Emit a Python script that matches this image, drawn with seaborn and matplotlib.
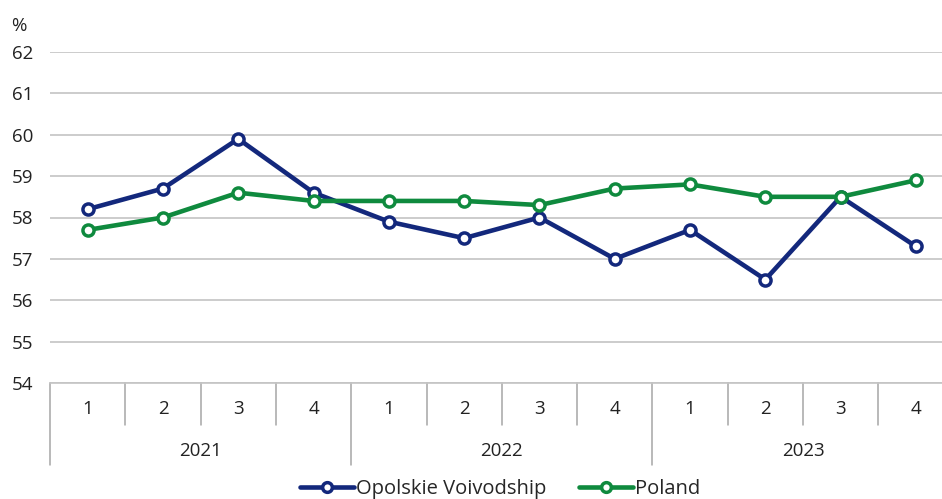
import matplotlib
matplotlib.use("Agg")
import matplotlib.pyplot as plt
import matplotlib.transforms as mtransforms
import seaborn as sns
import pandas as pd

years = ["2021", "2022", "2023"]
quarters = ["1", "2", "3", "4"]
opolskie = [58.2, 58.7, 59.9, 58.6, 57.9, 57.5, 58.0, 57.0, 57.7, 56.5, 58.5, 57.3]
poland = [57.7, 58.0, 58.6, 58.4, 58.4, 58.4, 58.3, 58.7, 58.8, 58.5, 58.5, 58.9]
series_names = ["Opolskie Voivodship", "Poland"]
colors = ["#13287c", "#0f8a3e"]

sns.set_theme(style="white")
plt.rcParams["font.family"] = ["Open Sans", "DejaVu Sans"]

n = len(opolskie)
df = pd.DataFrame({
    "x": list(range(n)) * 2,
    "value": opolskie + poland,
    "series": [series_names[0]] * n + [series_names[1]] * n,
})

fig = plt.figure(figsize=(9.42, 4.99), dpi=100)
ax = fig.add_axes([50 / 942, 1 - 383 / 499, 903.6 / 942, (383 - 52) / 499])

sns.lineplot(data=df, x="x", y="value", hue="series", palette=colors,
             marker="o", markersize=8, markerfacecolor="white",
             markeredgewidth=2.5, linewidth=3.3, ax=ax, legend=False)
for line, c in zip(ax.lines, colors):
    line.set_markeredgecolor(c)

fs = 13.5
ax.set_ylim(54, 62)
ax.set_xlim(-0.5, n - 0.5)
ax.set_yticks(range(54, 63))
ax.set_xticks([])
ax.set_xlabel("")
ax.set_ylabel("")
ax.grid(axis="y", color="#c4c4c4", linewidth=1.2)
ax.set_axisbelow(True)
for s in ["left", "right", "top"]:
    ax.spines[s].set_visible(False)
ax.spines["bottom"].set_color("#c4c4c4")
ax.spines["bottom"].set_linewidth(1.2)
ax.tick_params(axis="y", length=0, pad=12, labelsize=fs, labelcolor="#222222")
ax.text(-0.034, 1.05, "%", transform=ax.transAxes, fontsize=fs,
        color="#222222", ha="center", va="bottom")

# hierarchical category axis
trans = mtransforms.blended_transform_factory(ax.transData, ax.transAxes)
h_px = 383 - 52
q_bottom = -(425 - 383) / h_px
y_bottom = -(465 - 383) / h_px
q_text = -(409 - 383) / h_px
y_text = -(451 - 383) / h_px
for i in range(n + 1):
    xb = i - 0.5
    if i % 4 == 0:
        ax.plot([xb, xb], [0, y_bottom], transform=trans, color="#a6a6a6",
                linewidth=1.1, clip_on=False)
    else:
        ax.plot([xb, xb], [0, q_bottom], transform=trans, color="#a6a6a6",
                linewidth=1.1, clip_on=False)
for i in range(n):
    ax.text(i, q_text, quarters[i % 4], transform=trans, ha="center",
            va="center", fontsize=fs, color="#222222")
for j, yr in enumerate(years):
    ax.text(j * 4 + 1.5, y_text, yr, transform=trans, ha="center",
            va="center", fontsize=fs, color="#222222")

handles = [plt.Line2D([], [], color=c, linewidth=3.3, marker="o", markersize=7,
                      markerfacecolor="white", markeredgewidth=2.5,
                      markeredgecolor=c) for c in colors]
fig.legend(handles, series_names, loc="center", bbox_to_anchor=(500 / 942, 1 - 489 / 499),
           ncol=2, frameon=False, fontsize=14.5, handlelength=2.7,
           handletextpad=0.1, columnspacing=1.6)

fig.savefig("out.png", dpi=100)
